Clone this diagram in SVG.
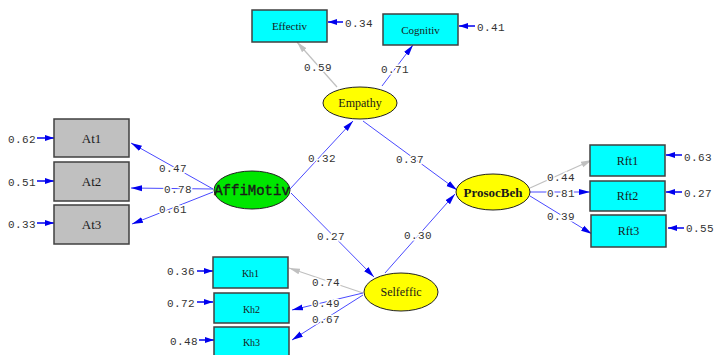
<svg xmlns="http://www.w3.org/2000/svg" width="715" height="355" viewBox="0 0 715 355">
<defs>
<style>
.bg{fill:#ffffff}
.box{stroke:#404040;stroke-width:1.5}
.cy{fill:#00ffff}
.gr{fill:#c0c0c0}
.ell{stroke:#202020;stroke-width:1}
.yel{fill:#ffff00}
.grn{fill:#00e600}
.ln{fill:none;stroke:#4a4aff;stroke-width:1}
.lg{fill:none;stroke:#c0c0c0;stroke-width:1.2}
.err{fill:none;stroke:#0000ee;stroke-width:1.5}
.num{font-family:"Liberation Mono","Courier New",monospace;font-size:11px;fill:#333333;text-anchor:middle;paint-order:stroke;stroke:#ffffff;stroke-width:3px;letter-spacing:0.4px}
.enum{font-family:"Liberation Mono","Courier New",monospace;font-size:11px;fill:#333333;letter-spacing:0.4px}
.lbl{font-family:"Liberation Serif","Times New Roman",serif;fill:#1a1a1a;text-anchor:middle}
</style>
<marker id="ab" markerUnits="userSpaceOnUse" markerWidth="12" markerHeight="8" refX="11" refY="4" orient="auto"><path d="M0,1 L11,4 L0,7 z" fill="#0000ee"/></marker>
<marker id="ag" markerUnits="userSpaceOnUse" markerWidth="12" markerHeight="8" refX="11" refY="4" orient="auto"><path d="M0,1 L11,4 L0,7 z" fill="#c0c0c0"/></marker>
<marker id="ae" markerUnits="userSpaceOnUse" markerWidth="10" markerHeight="6" refX="9" refY="3" orient="auto"><path d="M0,0 L9,3 L0,6 z" fill="#0000ee"/></marker>
</defs>
<rect class="bg" x="0" y="0" width="715" height="355"/>
<g id="connectors">
<line class="lg" x1="337" y1="87" x2="297" y2="42" marker-end="url(#ag)"/>
<line class="ln" x1="382" y1="86" x2="413" y2="45" marker-end="url(#ab)"/>
<line class="ln" x1="213" y1="189" x2="131" y2="143" marker-end="url(#ab)"/>
<line class="ln" x1="213" y1="189" x2="131" y2="188" marker-end="url(#ab)"/>
<line class="ln" x1="213" y1="192" x2="132" y2="224" marker-end="url(#ab)"/>
<line class="ln" x1="290" y1="189" x2="353" y2="121" marker-end="url(#ab)"/>
<line class="ln" x1="363" y1="121" x2="457" y2="190" marker-end="url(#ab)"/>
<line class="ln" x1="291" y1="193" x2="374" y2="277" marker-end="url(#ab)"/>
<line class="ln" x1="385" y1="273" x2="455" y2="194" marker-end="url(#ab)"/>
<line class="lg" x1="530" y1="188" x2="592" y2="160" marker-end="url(#ag)"/>
<line class="ln" x1="530" y1="192" x2="590" y2="192" marker-end="url(#ab)"/>
<line class="ln" x1="530" y1="196" x2="592" y2="234" marker-end="url(#ab)"/>
<line class="lg" x1="363" y1="293" x2="289" y2="268" marker-end="url(#ag)"/>
<line class="ln" x1="363" y1="293" x2="292" y2="310" marker-end="url(#ab)"/>
<line class="ln" x1="363" y1="295" x2="292" y2="340" marker-end="url(#ab)"/>
<line class="err" x1="343" y1="22" x2="328" y2="22" marker-end="url(#ae)"/>
<line class="err" x1="475" y1="26" x2="459" y2="26" marker-end="url(#ae)"/>
<line class="err" x1="37" y1="138" x2="54" y2="138" marker-end="url(#ae)"/>
<line class="err" x1="37" y1="181" x2="54" y2="181" marker-end="url(#ae)"/>
<line class="err" x1="37" y1="223" x2="54" y2="223" marker-end="url(#ae)"/>
<line class="err" x1="682" y1="155" x2="666" y2="155" marker-end="url(#ae)"/>
<line class="err" x1="682" y1="192" x2="666" y2="192" marker-end="url(#ae)"/>
<line class="err" x1="684" y1="228" x2="668" y2="228" marker-end="url(#ae)"/>
<line class="err" x1="197" y1="271" x2="213" y2="271" marker-end="url(#ae)"/>
<line class="err" x1="197" y1="302" x2="213" y2="302" marker-end="url(#ae)"/>
<line class="err" x1="199" y1="340" x2="214" y2="340" marker-end="url(#ae)"/>
<text class="num" x="318" y="71">0.59</text>
<text class="num" x="395" y="73">0.71</text>
<text class="num" x="173" y="172">0.47</text>
<text class="num" x="178" y="193">0.78</text>
<text class="num" x="173" y="213">0.61</text>
<text class="num" x="322" y="162">0.32</text>
<text class="num" x="410" y="163">0.37</text>
<text class="num" x="331" y="240">0.27</text>
<text class="num" x="418" y="239">0.30</text>
<text class="num" x="561" y="181">0.44</text>
<text class="num" x="561" y="197">0.81</text>
<text class="num" x="561" y="220">0.39</text>
<text class="num" x="326" y="286">0.74</text>
<text class="num" x="326" y="307">0.49</text>
<text class="num" x="326" y="323">0.67</text>
<text class="enum" x="345" y="27">0.34</text>
<text class="enum" x="477" y="31">0.41</text>
<text class="enum" x="8" y="143">0.62</text>
<text class="enum" x="8" y="186">0.51</text>
<text class="enum" x="8" y="228">0.33</text>
<text class="enum" x="684" y="161">0.63</text>
<text class="enum" x="684" y="197">0.27</text>
<text class="enum" x="686" y="232">0.55</text>
<text class="enum" x="167" y="275">0.36</text>
<text class="enum" x="167" y="307">0.72</text>
<text class="enum" x="170" y="345">0.48</text>
</g>
<g id="Effectiv"><rect class="box cy" x="252" y="10" width="75" height="32"/><text class="lbl" x="289.5" y="30" font-size="11">Effectiv</text></g>
<g id="Cognitiv"><rect class="box cy" x="383" y="14" width="75" height="31"/><text class="lbl" x="420.5" y="34" font-size="11">Cognitiv</text></g>
<g id="At1"><rect class="box gr" x="54" y="119" width="75" height="38"/><text class="lbl" x="91.5" y="143" font-size="13">At1</text></g>
<g id="At2"><rect class="box gr" x="54" y="162" width="75" height="39"/><text class="lbl" x="91.5" y="186" font-size="13">At2</text></g>
<g id="At3"><rect class="box gr" x="54" y="205" width="75" height="39"/><text class="lbl" x="91.5" y="229" font-size="13">At3</text></g>
<g id="Rft1"><rect class="box cy" x="590" y="145" width="75" height="31"/><text class="lbl" x="627.5" y="165" font-size="12">Rft1</text></g>
<g id="Rft2"><rect class="box cy" x="590" y="181" width="75" height="30"/><text class="lbl" x="627.5" y="200" font-size="12">Rft2</text></g>
<g id="Rft3"><rect class="box cy" x="591" y="215" width="75" height="32"/><text class="lbl" x="628.5" y="235" font-size="12">Rft3</text></g>
<g id="Kh1"><rect class="box cy" x="213" y="257" width="75" height="31"/><text class="lbl" x="250.5" y="277" font-size="10">Kh1</text></g>
<g id="Kh2"><rect class="box cy" x="214" y="293" width="75" height="30"/><text class="lbl" x="251.5" y="313" font-size="10">Kh2</text></g>
<g id="Kh3"><rect class="box cy" x="214" y="327" width="75" height="32"/><text class="lbl" x="251.5" y="346" font-size="10">Kh3</text></g>
<g id="Empathy"><ellipse class="ell yel" cx="360" cy="103" rx="37" ry="16"/><text class="lbl" x="360" y="107" font-size="12">Empathy</text></g>
<g id="AffiMotiv"><ellipse class="ell grn" cx="252" cy="190" rx="38" ry="19"/><text x="252" y="195" font-family="Liberation Mono,Courier New,monospace" font-size="14" fill="#1a1a1a" stroke="#1a1a1a" stroke-width="0.4" text-anchor="middle">AffiMotiv</text></g>
<g id="ProsocBeh"><ellipse class="ell yel" cx="493" cy="192" rx="37" ry="18"/><text class="lbl" x="493" y="197" font-size="13" font-weight="bold">ProsocBeh</text></g>
<g id="Selfeffic"><ellipse class="ell yel" cx="401" cy="292" rx="37" ry="19"/><text class="lbl" x="401" y="296" font-size="12">Selfeffic</text></g>
</svg>
